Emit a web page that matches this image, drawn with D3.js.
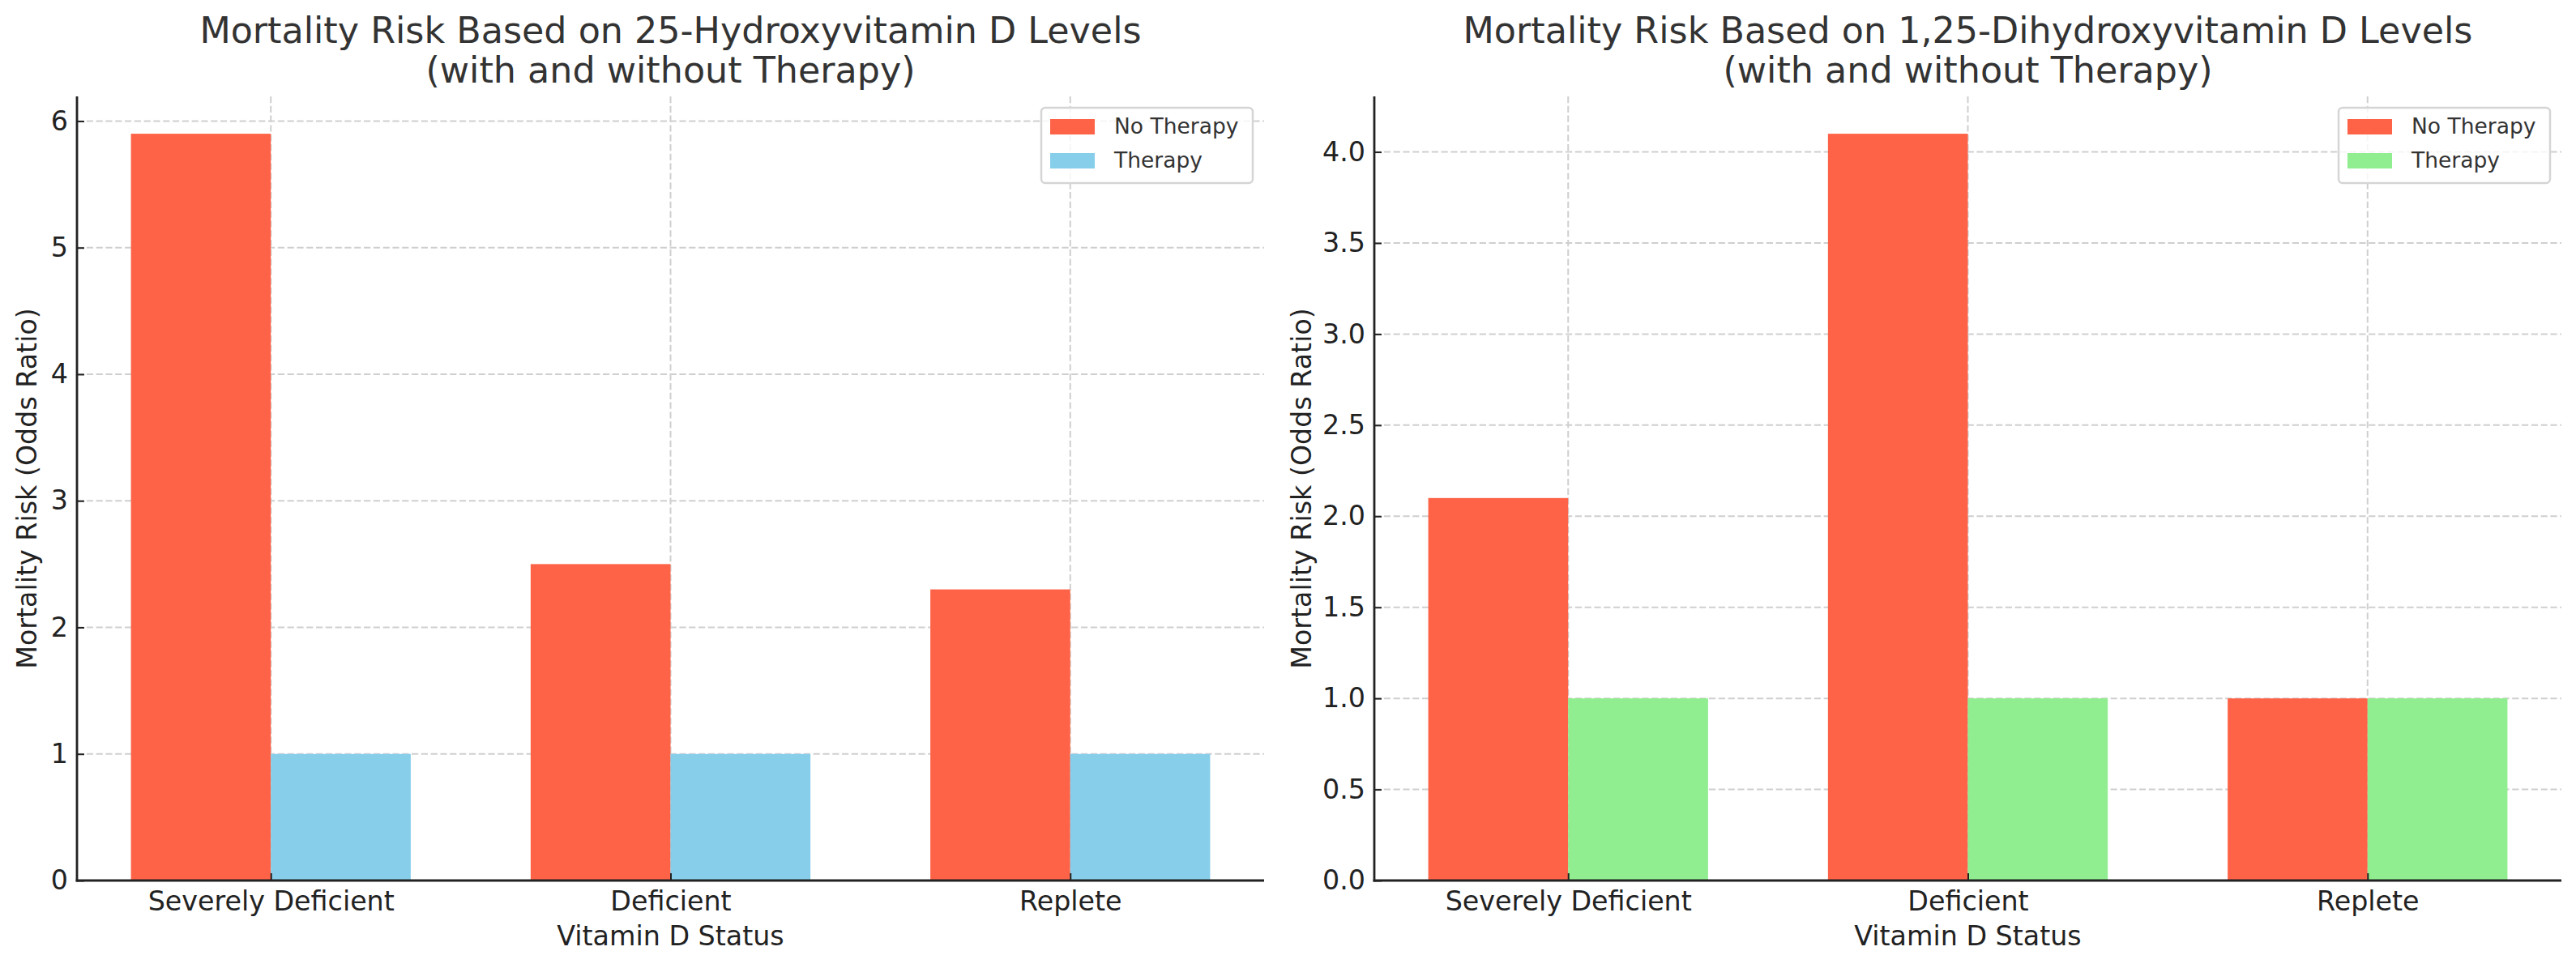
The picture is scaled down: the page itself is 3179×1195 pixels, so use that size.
<!DOCTYPE html>
<html>
<head>
<meta charset="utf-8">
<script src="https://cdn.jsdelivr.net/npm/d3@7"></script>
<style>
  html, body { margin: 0; padding: 0; background: #fff; }
  svg { display: block; font-family: "DejaVu Sans", sans-serif; }
</style>
</head>
<body>
<svg id="chart" width="3179" height="1195"></svg>
<script>
// ---- Data ----
const categories = ["Severely Deficient", "Deficient", "Replete"];
const seriesNames = ["No Therapy", "Therapy"];
const hydroxyNoTherapy = [5.9, 2.5, 2.3];
const hydroxyTherapy = [1.0, 1.0, 1.0];
const dihydroxyNoTherapy = [2.1, 4.1, 1.0];
const dihydroxyTherapy = [1.0, 1.0, 1.0];
const hydroxyTicks = [0, 1, 2, 3, 4, 5, 6];
const dihydroxyTicks = [0, 0.5, 1.0, 1.5, 2.0, 2.5, 3.0, 3.5, 4.0];
const titles = [
  ["Mortality Risk Based on 25-Hydroxyvitamin D Levels", "(with and without Therapy)"],
  ["Mortality Risk Based on 1,25-Dihydroxyvitamin D Levels", "(with and without Therapy)"]
];
const xLabel = "Vitamin D Status";
const yLabel = "Mortality Risk (Odds Ratio)";

const panels = [
  { left: 95, right: 1560, ylabelX: 45, title: titles[0], series: [hydroxyNoTherapy, hydroxyTherapy],
    colors: ["#FF6347", "#87CEEB"], ticks: hydroxyTicks, fmt: d3.format("d"),
    legend: { x: 1285, w: 261 } },
  { left: 1696, right: 3161, ylabelX: 1618, title: titles[1], series: [dihydroxyNoTherapy, dihydroxyTherapy],
    colors: ["#FF6347", "#90EE90"], ticks: dihydroxyTicks, fmt: d3.format(".1f"),
    legend: { x: 2886, w: 261 } }
];

const plotTop = 119, plotBottom = 1087;
const barW = 0.35;
const svg = d3.select("#chart");

panels.forEach(p => {
  const g = svg.append("g");
  const maxV = d3.max(p.series.flat());
  const y = d3.scaleLinear().domain([0, maxV * 1.05]).range([plotBottom, plotTop]);
  const lo = -barW, hi = categories.length - 1 + barW;
  const m = (hi - lo) * 0.05;
  const x = d3.scaleLinear().domain([lo - m, hi + m]).range([p.left, p.right]);

  // grid
  const grid = g.append("g").attr("stroke", "#cfcfcf").attr("stroke-width", 2)
    .attr("stroke-dasharray", "8.2,3.6").attr("fill", "none");
  p.ticks.forEach(t => {
    grid.append("line").attr("x1", p.left).attr("x2", p.right)
      .attr("y1", y(t)).attr("y2", y(t));
  });
  categories.forEach((c, i) => {
    grid.append("line").attr("x1", x(i)).attr("x2", x(i))
      .attr("y1", plotTop).attr("y2", plotBottom);
  });

  // bars
  p.series.forEach((vals, s) => {
    g.append("g").selectAll("rect").data(vals).join("rect")
      .attr("x", (d, i) => s === 0 ? x(i - barW) : x(i))
      .attr("width", x(barW) - x(0))
      .attr("y", d => y(d))
      .attr("height", d => y(0) - y(d))
      .attr("fill", p.colors[s]);
  });

  // y axis
  const yAxis = d3.axisLeft(y).tickValues(p.ticks).tickFormat(p.fmt).tickSizeInner(-9).tickSizeOuter(0).tickPadding(11);
  const ya = g.append("g").attr("transform", `translate(${p.left},0)`).call(yAxis);
  ya.select(".domain").remove();
  ya.selectAll(".tick line").attr("stroke", "#222").attr("stroke-width", 2);
  ya.selectAll(".tick text").attr("font-size", 33.3).attr("fill", "#222")
    .attr("font-family", "DejaVu Sans");

  // x axis
  const xAxis = d3.axisBottom(x).tickValues(d3.range(categories.length))
    .tickFormat(i => categories[i]).tickSizeInner(-9).tickSizeOuter(0).tickPadding(21);
  const xa = g.append("g").attr("transform", `translate(0,${plotBottom})`).call(xAxis);
  xa.select(".domain").remove();
  xa.selectAll(".tick line").attr("stroke", "#222").attr("stroke-width", 2);
  xa.selectAll(".tick text").attr("font-size", 33.3).attr("fill", "#222")
    .attr("font-family", "DejaVu Sans").attr("dy", null).attr("y", 37);

  // spines
  g.append("line").attr("x1", p.left).attr("x2", p.left).attr("y1", plotTop).attr("y2", plotBottom + 1.4)
    .attr("stroke", "#222").attr("stroke-width", 2.8);
  g.append("line").attr("x1", p.left - 1.4).attr("x2", p.right).attr("y1", plotBottom).attr("y2", plotBottom)
    .attr("stroke", "#222").attr("stroke-width", 2.8);

  // axis labels
  g.append("text").attr("x", (p.left + p.right) / 2).attr("y", 1167)
    .attr("text-anchor", "middle").attr("font-size", 33.3).attr("fill", "#222").text(xLabel);
  g.append("text").attr("transform", `translate(${p.ylabelX},${(plotTop + plotBottom) / 2}) rotate(-90)`)
    .attr("text-anchor", "middle").attr("font-size", 33.3).attr("fill", "#222").text(yLabel);

  // title
  const cx = (p.left + p.right) / 2;
  p.title.forEach((line, i) => {
    g.append("text").attr("x", cx).attr("y", 53 + i * 48.5).attr("text-anchor", "middle")
      .attr("font-size", 44.4).attr("fill", "#333").text(line);
  });

  // legend
  const lg = g.append("g");
  lg.append("rect").attr("x", p.legend.x).attr("y", 133).attr("width", p.legend.w).attr("height", 93)
    .attr("rx", 5).attr("fill", "#fff").attr("fill-opacity", 0.8)
    .attr("stroke", "#d5d5d5").attr("stroke-width", 2.5);
  seriesNames.forEach((n, s) => {
    lg.append("rect").attr("x", p.legend.x + 11).attr("y", 147 + s * 42).attr("width", 55).attr("height", 19)
      .attr("fill", p.colors[s]);
    lg.append("text").attr("x", p.legend.x + 90).attr("y", 165 + s * 42)
      .attr("font-size", 26.5).attr("fill", "#333").text(n);
  });
});
</script>
</body>
</html>
